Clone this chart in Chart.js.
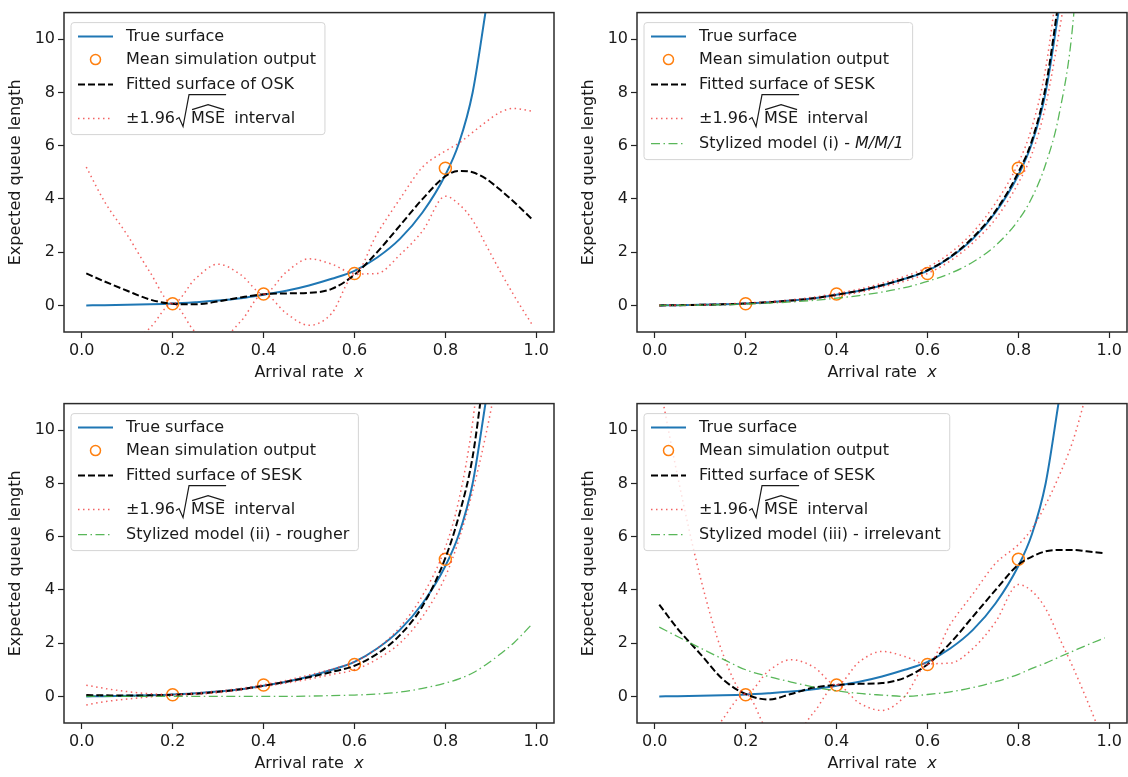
<!DOCTYPE html>
<html>
<head>
<meta charset="utf-8">
<script src="https://cdn.jsdelivr.net/npm/chart.js@4.4.1/dist/chart.umd.min.js"></script>
<style>
  html, body { margin: 0; padding: 0; background: #fff; width: 1128px; height: 777px; overflow: hidden; }
  .panel { position: absolute; width: 564px; height: 391px; }
</style>
</head>
<body>
<div class="panel" style="left:0;top:0"><canvas id="c1" width="564" height="391"></canvas></div>
<div class="panel" style="left:573px;top:0"><canvas id="c2" width="564" height="391"></canvas></div>
<div class="panel" style="left:0;top:391px"><canvas id="c3" width="564" height="391"></canvas></div>
<div class="panel" style="left:573px;top:391px"><canvas id="c4" width="564" height="391"></canvas></div>
<script>
// ---- data ----
const xGrid = [0.01, 0.05, 0.1, 0.15, 0.2, 0.25, 0.3, 0.35, 0.4, 0.45, 0.5, 0.55, 0.6, 0.65, 0.7, 0.75, 0.8, 0.83, 0.86, 0.89, 0.92, 0.95, 0.99];
const xTicks = [0, 0.2, 0.4, 0.6, 0.8, 1.0];
const yTicks = [0, 2, 4, 6, 8, 10];

const trueSurface = [0, 0.005, 0.02, 0.04, 0.07, 0.12, 0.18, 0.27, 0.4, 0.55, 0.75, 1.0, 1.3, 1.8, 2.5, 3.5, 4.9, 6.1, 8.0, 11.2, null, null, null];
const simX = [0.2, 0.4, 0.6, 0.8];
const simY = [0.06, 0.43, 1.2, 5.15];

// top left: OSK
const oskFit   = [1.2, 0.9, 0.55, 0.22, 0.06, 0.04, 0.15, 0.3, 0.42, 0.45, 0.47, 0.62, 1.15, 2.0, 3.0, 4.0, 4.85, 5.05, 5.0, 4.75, 4.35, 3.9, 3.25];
const oskUpper = [5.2, 3.9, 2.65, 1.25, 0.06, 1.0, 1.55, 1.15, 0.43, 1.25, 1.75, 1.55, 1.2, 2.7, 4.0, 5.2, 5.8, 6.1, 6.5, 6.9, 7.25, 7.4, 7.3];
const oskLower = [-2.8, -2.1, -1.55, -0.85, 0.06, -1.0, -1.3, -0.6, 0.43, -0.3, -0.75, -0.3, 1.15, 1.2, 1.9, 2.8, 4.1, 3.8, 3.2, 2.25, 1.3, 0.4, -0.7];

// top right: SESK with M/M/1
const mm1Fit   = [0, 0.005, 0.02, 0.04, 0.07, 0.12, 0.18, 0.27, 0.4, 0.55, 0.76, 1.0, 1.32, 1.82, 2.55, 3.55, 5.0, 6.2, 8.2, 11.6, null, null, null];
const mm1Upper = [0.01, 0.015, 0.03, 0.05, 0.09, 0.14, 0.21, 0.31, 0.45, 0.61, 0.83, 1.09, 1.43, 1.97, 2.75, 3.85, 5.35, 6.7, 8.9, 12.6, null, null, null];
const mm1Lower = [-0.01, -0.005, 0.01, 0.03, 0.05, 0.1, 0.15, 0.23, 0.35, 0.49, 0.69, 0.91, 1.2, 1.67, 2.35, 3.25, 4.6, 5.7, 7.5, 10.3, 13.5, null, null];
const mm1Model = [0, 0.003, 0.011, 0.026, 0.05, 0.083, 0.13, 0.19, 0.27, 0.37, 0.5, 0.67, 0.9, 1.2, 1.63, 2.25, 3.2, 4.05, 5.3, 7.2, 10.6, 18, null];

// bottom left: SESK with rougher model
const roughFit   = [0.05, 0.04, 0.03, 0.04, 0.06, 0.1, 0.17, 0.27, 0.4, 0.55, 0.72, 0.92, 1.15, 1.6, 2.3, 3.4, 5.2, 6.8, 9.0, 12.8, null, null, null];
const roughUpper = [0.42, 0.3, 0.18, 0.1, 0.07, 0.13, 0.2, 0.3, 0.44, 0.6, 0.8, 1.02, 1.3, 1.8, 2.6, 3.8, 5.6, 7.4, 10.3, 15, null, null, null];
const roughLower = [-0.32, -0.2, -0.1, -0.02, 0.05, 0.08, 0.14, 0.24, 0.37, 0.5, 0.65, 0.82, 1.0, 1.4, 2.0, 3.0, 4.5, 5.9, 7.7, 9.9, 12.5, null, null];
const roughModel = [0, 0, 0, 0, 0, 0, 0, 0, 0, 0, 0.01, 0.03, 0.05, 0.09, 0.16, 0.3, 0.5, 0.66, 0.88, 1.2, 1.58, 2.0, 2.7];

// bottom right: SESK with irrelevant model
const irrFit   = [3.45, 2.55, 1.6, 0.64, 0.09, -0.12, 0.09, 0.33, 0.43, 0.47, 0.5, 0.7, 1.2, 2.0, 3.0, 4.0, 4.95, 5.25, 5.45, 5.5, 5.5, 5.45, 5.38];
const irrUpper = [11.8, 8.3, 4.5, 1.6, 0.09, 0.95, 1.38, 1.1, 0.43, 1.3, 1.69, 1.5, 1.2, 2.7, 3.85, 5.0, 5.7, 6.3, 7.2, 8.3, 9.6, 11.4, 14];
const irrLower = [-5, -3.5, -2.2, -0.85, 0.09, -1.3, -1.5, -0.6, 0.43, -0.25, -0.53, 0.0, 1.2, 1.25, 1.8, 2.8, 4.2, 3.95, 3.3, 2.2, 1.1, -0.1, -1.8];
const irrModel = [2.6, 2.25, 1.82, 1.4, 1.0, 0.75, 0.54, 0.35, 0.21, 0.11, 0.05, 0.0, 0.07, 0.17, 0.33, 0.55, 0.83, 1.05, 1.25, 1.48, 1.7, 1.92, 2.2];

const X_MIN = -0.039, X_MAX = 1.039, Y_MIN = -1, Y_MAX = 11;

// ---- styles ----
const FONT = '"DejaVu Sans", sans-serif';
const TXT = '#1a1a1a';
const C_TRUE = '#1f77b4', C_SIM = '#ff7f0e', C_FIT = '#000000';
const C_BAND = 'rgba(240,60,60,0.8)', C_STYL = 'rgba(60,170,60,0.85)';

const styles = {
  solid:   { borderColor: C_TRUE, borderWidth: 2, borderDash: [] },
  dashed:  { borderColor: C_FIT, borderWidth: 2, borderDash: [7, 3] },
  dotted:  { borderColor: C_BAND, borderWidth: 1.5, borderDash: [1.5, 3.5] },
  dashdot: { borderColor: C_STYL, borderWidth: 1.3, borderDash: [9, 3.5, 1.5, 3.5] }
};

function pts(xs, ys) {
  return xs.map((x, i) => ({ x: x, y: ys[i] }));
}

function lineSet(ys, kind, order) {
  return Object.assign({
    type: 'line', data: pts(xGrid, ys), pointRadius: 0, fill: false,
    cubicInterpolationMode: 'monotone', spanGaps: false, order: order
  }, styles[kind]);
}

function simSet() {
  return {
    type: 'line', data: pts(simX, simY), showLine: false, order: 5,
    pointRadius: 6, pointBorderWidth: 1.5, pointBorderColor: C_SIM,
    pointBackgroundColor: 'rgba(0,0,0,0)'
  };
}

// draws "±1.96 sqrt(MSE-hat) interval"
function drawMse(ctx, x, y) {
  ctx.font = '16px ' + FONT;
  ctx.fillText('±1.96', x, y);
  x += ctx.measureText('±1.96').width + 1;
  const mx = x + 15;
  const mw = ctx.measureText('MSE').width;
  ctx.strokeStyle = TXT; ctx.lineWidth = 1.2; ctx.setLineDash([]);
  ctx.beginPath();
  ctx.moveTo(x, y + 1);
  ctx.lineTo(x + 3, y - 1);
  ctx.lineTo(x + 7, y + 8);
  ctx.lineTo(x + 13, y - 24);
  ctx.lineTo(mx + mw + 1, y - 24);
  ctx.stroke();
  ctx.fillText('MSE', mx, y);
  ctx.beginPath();
  ctx.moveTo(mx + 1, y - 9);
  ctx.lineTo(mx + mw / 2, y - 14);
  ctx.lineTo(mx + mw - 1, y - 9);
  ctx.stroke();
  ctx.fillText(' interval', mx + mw + 4, y);
  return mx + mw + 4 + ctx.measureText(' interval').width;
}

function drawText(ctx, parts, x, y) {
  for (const p of parts) {
    ctx.font = (p.it ? 'italic ' : '') + '16px ' + FONT;
    ctx.fillText(p.t, x, y);
    x += ctx.measureText(p.t).width;
  }
  return x;
}

function textWidth(ctx, parts) {
  let w = 0;
  for (const p of parts) {
    ctx.font = (p.it ? 'italic ' : '') + '16px ' + FONT;
    w += ctx.measureText(p.t).width;
  }
  return w;
}

function drawSample(ctx, kind, x0, x1, y) {
  ctx.save();
  if (kind === 'circle') {
    ctx.strokeStyle = C_SIM; ctx.lineWidth = 1.5;
    ctx.beginPath(); ctx.arc((x0 + x1) / 2, y, 5, 0, Math.PI * 2); ctx.stroke();
  } else {
    const s = styles[kind];
    ctx.strokeStyle = s.borderColor; ctx.lineWidth = s.borderWidth; ctx.setLineDash(s.borderDash);
    ctx.beginPath(); ctx.moveTo(x0, y); ctx.lineTo(x1, y); ctx.stroke();
  }
  ctx.restore();
}

const rowOffsets = [24, 47, 72, 106, 131];

function decor(rows) {
  return {
    id: 'decor',
    afterDraw(chart) {
      const ctx = chart.ctx, a = chart.chartArea;
      ctx.save();
      ctx.textBaseline = 'middle';
      ctx.fillStyle = TXT;

      // legend box
      const textX = a.left + 62;
      let maxW = 0;
      rows.forEach(r => {
        const w = r.mse ? 150 : textWidth(ctx, r.parts);
        if (w > maxW) maxW = w;
      });
      const bx = a.left + 7, by = a.top + 10;
      const bw = textX + maxW + 9 - bx;
      const bh = a.top + rowOffsets[rows.length - 1] + 16 - by;
      ctx.fillStyle = 'rgba(255,255,255,0.8)';
      ctx.strokeStyle = '#d4d4d4'; ctx.lineWidth = 1;
      ctx.beginPath(); ctx.roundRect(bx, by, bw, bh, 3); ctx.fill(); ctx.stroke();
      ctx.fillStyle = TXT;
      rows.forEach((r, i) => {
        const y = a.top + rowOffsets[i];
        drawSample(ctx, r.kind, a.left + 14, a.left + 49, y);
        ctx.fillStyle = TXT;
        if (r.mse) drawMse(ctx, textX, y);
        else drawText(ctx, r.parts, textX, y);
      });

      // frame
      ctx.strokeStyle = '#2b2b2b'; ctx.lineWidth = 1.5; ctx.setLineDash([]);
      ctx.strokeRect(a.left, a.top, a.right - a.left, a.bottom - a.top);

      // x axis title with italic x
      const title = [{ t: 'Arrival rate  ' }, { t: 'x', it: true }];
      const tw = textWidth(ctx, title);
      drawText(ctx, title, (a.left + a.right) / 2 - tw / 2, a.bottom + 41);
      ctx.restore();
    }
  };
}

function makeChart(id, sets, rows) {
  const font = { family: FONT, size: 16 };
  new Chart(document.getElementById(id), {
    type: 'line',
    data: { datasets: sets },
    options: {
      responsive: false,
      animation: false,
      events: [],
      layout: { padding: { top: 7, right: 10, left: 0, bottom: 0 } },
      plugins: { legend: { display: false }, tooltip: { enabled: false } },
      scales: {
        x: {
          type: 'linear', min: X_MIN, max: X_MAX,
          afterBuildTicks: s => { s.ticks = xTicks.map(v => ({ value: v })); },
          afterFit: s => { s.height = 59; },
          ticks: { callback: v => v.toFixed(1), font: font, color: TXT, padding: 3, maxRotation: 0, autoSkip: false },
          grid: { drawOnChartArea: false, drawTicks: true, tickLength: 6, tickColor: '#222', tickWidth: 1.2 },
          border: { display: false }
        },
        y: {
          type: 'linear', min: Y_MIN, max: Y_MAX,
          afterBuildTicks: s => { s.ticks = yTicks.map(v => ({ value: v })); },
          afterFit: s => { s.width = 64; },
          ticks: { callback: v => String(v), font: font, color: TXT, padding: 3, autoSkip: false },
          grid: { drawOnChartArea: false, drawTicks: true, tickLength: 6, tickColor: '#222', tickWidth: 1.2 },
          border: { display: false },
          title: { display: true, text: 'Expected queue length', font: font, color: TXT, padding: { top: 6, bottom: 0 } }
        }
      }
    },
    plugins: [decor(rows)]
  });
}

const rowTrue = { kind: 'solid', parts: [{ t: 'True surface' }] };
const rowSim = { kind: 'circle', parts: [{ t: 'Mean simulation output' }] };
const rowMse = { kind: 'dotted', mse: true };
const rowOsk = { kind: 'dashed', parts: [{ t: 'Fitted surface of OSK' }] };
const rowSesk = { kind: 'dashed', parts: [{ t: 'Fitted surface of SESK' }] };

makeChart('c1', [
  lineSet(trueSurface, 'solid', 6), simSet(), lineSet(oskFit, 'dashed', 4),
  lineSet(oskUpper, 'dotted', 3), lineSet(oskLower, 'dotted', 3)
], [rowTrue, rowSim, rowOsk, rowMse]);

makeChart('c2', [
  lineSet(trueSurface, 'solid', 6), simSet(), lineSet(mm1Fit, 'dashed', 4),
  lineSet(mm1Upper, 'dotted', 3), lineSet(mm1Lower, 'dotted', 3), lineSet(mm1Model, 'dashdot', 1)
], [rowTrue, rowSim, rowSesk, rowMse,
    { kind: 'dashdot', parts: [{ t: 'Stylized model (i) - ' }, { t: 'M/M/1', it: true }] }]);

makeChart('c3', [
  lineSet(trueSurface, 'solid', 6), simSet(), lineSet(roughFit, 'dashed', 4),
  lineSet(roughUpper, 'dotted', 3), lineSet(roughLower, 'dotted', 3), lineSet(roughModel, 'dashdot', 1)
], [rowTrue, rowSim, rowSesk, rowMse,
    { kind: 'dashdot', parts: [{ t: 'Stylized model (ii) - rougher' }] }]);

makeChart('c4', [
  lineSet(trueSurface, 'solid', 6), simSet(), lineSet(irrFit, 'dashed', 4),
  lineSet(irrUpper, 'dotted', 3), lineSet(irrLower, 'dotted', 3), lineSet(irrModel, 'dashdot', 1)
], [rowTrue, rowSim, rowSesk, rowMse,
    { kind: 'dashdot', parts: [{ t: 'Stylized model (iii) - irrelevant' }] }]);
</script>
</body>
</html>
